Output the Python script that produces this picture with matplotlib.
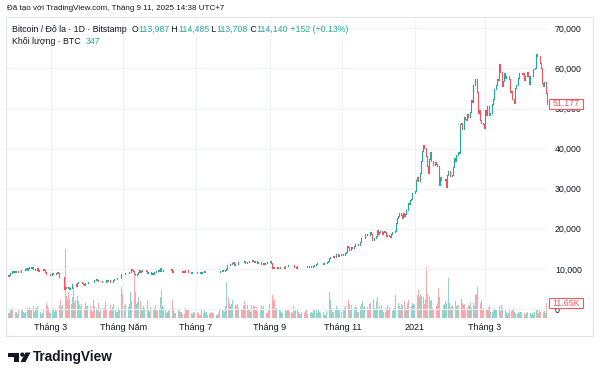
import matplotlib
matplotlib.use("Agg")
import matplotlib.pyplot as plt
import matplotlib.dates as mdates
from matplotlib.patches import Rectangle, Circle, Polygon
import numpy as np
import pandas as pd

plt.rcParams["font.family"] = ["Liberation Sans", "DejaVu Sans"]

# daily closes (USD), Bitstamp BTC/USD, 2020-01-25 .. 2021-04-22
start_date = "2020-01-25"
first_open = 8440
closes = [
    # Jan 2020
    8340, 8600, 8900, 9360, 9300, 9500, 9340,
    # Feb
    9380, 9330, 9290, 9180, 9610, 9730, 9800, 9900, 10160, 9850, 10270, 10360, 10240, 10360, 9900,
    9930, 9700, 10180, 9600, 9610, 9690, 9670, 9970, 9650, 9310, 8790, 8800, 8710, 8530,
    # Mar
    8530, 8910, 8760, 8760, 9070, 9150, 8900, 8040, 7940, 7910, 7910, 4970, 5560, 5200, 5390, 5010,
    5230, 5230, 6190, 6200, 6190, 5830, 6490, 6760, 6690, 6760, 6380, 6250, 5880, 6390, 6430,
    # Apr
    6640, 6790, 6740, 6860, 6790, 7270, 7180, 7360, 7300, 6870, 6890, 6910, 6860, 6840, 6640,
    7120, 7100, 7260, 7120, 6840, 6860, 7130, 7480, 7510, 7540, 7700, 7790, 7760, 8780, 8630,
    # May
    8830, 8970, 8900, 8890, 9020, 9150, 9980, 9810, 9540, 8730, 8600, 8810, 9270, 9730, 9330, 9380,
    9670, 9730, 9780, 9510, 9060, 9170, 9180, 8720, 8900, 8840, 9200, 9580, 9420, 9700, 9460,
    # Jun
    10200, 9520, 9660, 9800, 9630, 9670, 9750, 9780, 9780, 9880, 9320, 9480, 9480, 9390, 9440,
    9520, 9460, 9390, 9310, 9360, 9290, 9690, 9630, 9290, 9250, 9160, 9010, 9120, 9190, 9140,
    # Jul
    9230, 9090, 9060, 9140, 9070, 9340, 9250, 9430, 9240, 9280, 9240, 9300, 9240, 9250, 9200, 9130,
    9150, 9170, 9210, 9160, 9390, 9540, 9610, 9550, 9710, 9940, 11050, 10930, 11100, 11110, 11350,
    # Aug
    11800, 11070, 11230, 11190, 11740, 11770, 11600, 11750, 11680, 11880, 11410, 11590, 11780, 11770,
    11860, 11910, 12290, 11970, 11740, 11870, 11520, 11680, 11650, 11760, 11340, 11460, 11320, 11530,
    11480, 11710, 11680,
    # Sep
    11970, 11420, 10170, 10480, 10170, 10250, 10370, 10130, 10240, 10360, 10400, 10440, 10330, 10680,
    10790, 10950, 10940, 10930, 11080, 10920, 10420, 10530, 10240, 10740, 10690, 10730, 10780, 10700,
    10840, 10780,
    # Oct
    10620, 10570, 10550, 10670, 10790, 10600, 10670, 10920, 11060, 11300, 11380, 11550, 11430, 11430,
    11500, 11320, 11370, 11500, 11750, 11920, 12820, 12970, 12930, 13120, 13030, 13070, 13650, 13270,
    13460, 13560, 13800,
    # Nov
    13760, 13550, 14030, 14130, 15590, 15580, 14830, 15480, 15330, 15300, 15700, 16280, 16320, 16070,
    15960, 16720, 17650, 17800, 17820, 18680, 18700, 18420, 18370, 19160, 18740, 17150, 17140, 17720,
    18180, 19700,
    # Dec
    18780, 19220, 19440, 18650, 19150, 19360, 19170, 18320, 18550, 18250, 18030, 18800, 19170, 19270,
    19440, 21370, 22800, 23140, 23860, 23480, 22740, 23820, 23230, 23730, 24710, 26490, 26280, 27080,
    27360, 28860, 28990,
    # Jan 2021
    29380, 32130, 33000, 31990, 33980, 36820, 39370, 40790, 40250, 38240, 35540, 34010, 37370, 39170,
    36800, 36020, 35800, 36630, 36050, 35550, 30830, 33000, 32100, 32290, 32270, 32520, 30430, 33440,
    34300, 34320, 33110,
    # Feb
    33530, 35510, 37620, 36940, 38290, 39260, 38900, 46200, 46480, 44870, 48000, 47410, 47230, 48720,
    47940, 49200, 52150, 51680, 55890, 55890, 57410, 54090, 48890, 49700, 47090, 46340, 46190, 45140,
    # Mar
    49630, 48380, 50540, 48440, 48880, 48920, 51220, 52390, 54880, 55860, 57330, 57230, 61180, 59000,
    55660, 56900, 58910, 57650, 58030, 58100, 57350, 54080, 54340, 52300, 51320, 55030, 55840, 55780,
    57620, 58780, 58800,
    # Apr
    58730, 58970, 57060, 58200, 59130, 58060, 56000, 58090, 58090, 59770, 59790, 59980, 63500, 63110,
    62980, 61400, 60080, 56250, 55700, 56500, 53800, 51177,
]

# daily volume (thousand BTC)
volumes = [
    3.5, 4.0, 6.5, 8.0, 6.0, 7.5, 5.0,
    4.5, 3.0, 6.0, 5.5, 7.0, 6.5, 4.5, 4.0, 5.0, 7.5, 6.0, 8.5, 7.0, 6.5, 9.0, 5.0, 8.0, 7.5, 9.5,
    6.0, 4.5, 3.0, 3.5, 7.0, 8.0, 12.0, 9.5, 7.5, 4.5,
    4.0, 7.5, 6.0, 4.5, 6.5, 5.5, 3.5, 9.0, 14.0, 8.5, 10.0, 58.0, 54.0, 17.0, 14.0, 20.0, 15.0,
    11.0, 16.0, 24.0, 12.0, 14.0, 17.0, 13.0, 10.0, 8.5, 11.0, 7.5, 8.0, 12.0, 9.0,
    9.0, 10.5, 9.0, 6.0, 5.0, 14.0, 9.5, 8.0, 7.0, 12.0, 5.0, 7.5, 9.0, 8.0, 7.5, 12.5, 7.0, 6.0,
    5.5, 10.0, 7.0, 8.5, 11.0, 6.0, 4.5, 5.0, 7.5, 6.5, 24.0, 19.0,
    18.0, 9.0, 10.5, 12.0, 8.5, 11.0, 20.0, 13.0, 9.0, 33.0, 20.0, 11.0, 12.5, 16.0, 13.0, 8.0,
    7.5, 9.5, 8.0, 10.5, 14.0, 7.0, 5.0, 8.5, 9.0, 6.5, 7.5, 10.0, 6.0, 5.5, 7.0,
    16.0, 22.0, 9.0, 8.5, 6.5, 4.0, 5.0, 5.5, 6.0, 7.0, 14.0, 8.0, 4.0, 3.5, 9.5, 6.0, 5.5, 5.0,
    5.0, 3.0, 3.0, 8.0, 6.5, 7.0, 6.0, 5.5, 4.0, 3.0, 4.5, 4.0,
    5.0, 4.5, 3.5, 2.5, 2.5, 6.0, 4.0, 6.5, 5.0, 4.5, 2.5, 3.0, 4.0, 4.5, 3.5, 4.0, 3.0, 2.0,
    2.5, 3.5, 6.0, 7.0, 6.5, 5.5, 5.0, 9.0, 28.0, 16.0, 12.0, 9.0, 11.0,
    14.0, 19.0, 10.0, 9.0, 11.0, 8.0, 10.0, 6.0, 6.5, 9.0, 13.0, 9.0, 10.0, 7.0, 6.0, 5.0, 10.0,
    9.5, 9.0, 7.0, 8.5, 5.5, 4.5, 6.0, 10.0, 7.5, 9.0, 6.5, 4.0, 4.0, 7.0,
    11.0, 12.0, 18.0, 13.0, 15.0, 8.0, 7.5, 8.5, 6.0, 5.5, 5.0, 3.5, 4.0, 6.0, 5.5, 6.0, 7.0, 5.0,
    4.5, 3.5, 9.0, 5.5, 6.0, 6.5, 4.5, 3.0, 3.0, 4.5, 4.0, 3.5,
    5.5, 6.0, 3.0, 2.5, 4.0, 5.0, 3.5, 6.5, 7.0, 6.0, 3.5, 6.0, 5.0, 4.0, 4.5, 5.0, 2.5, 2.0, 5.5,
    7.0, 20.0, 14.0, 8.0, 5.0, 4.5, 6.5, 9.0, 8.0, 6.5, 6.0, 5.0,
    4.5, 7.0, 7.5, 9.0, 19.0, 14.0, 11.0, 6.0, 10.0, 7.5, 8.0, 9.0, 8.0, 5.0, 4.5, 8.5, 11.0,
    13.0, 8.0, 9.0, 7.0, 8.5, 7.0, 11.0, 12.0, 22.0, 15.0, 8.0, 6.5, 13.0,
    16.0, 9.0, 7.0, 10.0, 6.0, 4.5, 5.0, 8.0, 10.0, 7.0, 8.5, 5.0, 5.5, 6.0, 7.5, 18.0, 23.0,
    12.0, 9.0, 8.0, 11.0, 10.0, 13.0, 8.0, 7.5, 12.0, 14.0, 10.0, 9.5, 12.0, 11.0,
    10.0, 24.0, 18.0, 22.0, 16.0, 19.0, 17.0, 16.0, 11.0, 14.0, 40.0, 19.0, 16.0, 13.0, 14.0, 8.0,
    7.0, 8.5, 9.5, 12.0, 23.0, 16.0, 7.0, 6.5, 10.0, 11.0, 13.0, 12.0, 31.0, 12.0, 8.0,
    9.0, 9.5, 10.0, 13.0, 9.0, 10.0, 9.0, 26.0, 15.0, 12.0, 10.0, 11.0, 7.0, 8.0, 10.0, 9.0, 12.0,
    8.0, 11.5, 9.0, 18.0, 19.0, 24.0, 15.0, 12.0, 14.0, 7.0, 7.5,
    9.5, 6.0, 7.0, 8.0, 9.5, 4.5, 4.5, 6.0, 8.0, 7.0, 6.5, 7.5, 9.0, 5.5, 10.0, 8.0, 7.0, 6.0,
    4.5, 3.0, 4.0, 6.5, 5.5, 7.0, 8.0, 5.0, 3.5, 3.0, 4.5, 4.0, 5.0,
    4.5, 4.0, 3.5, 2.5, 4.0, 5.0, 6.0, 3.5, 3.0, 3.5, 2.5, 4.5, 6.0, 7.0, 4.0, 6.5, 4.5, 9.5,
    5.0, 5.5, 4.0, 11.65,
]

tick_dates = ["2020-03-01", "2020-05-01", "2020-07-01", "2020-09-01", "2020-11-01", "2021-01-01", "2021-03-01"]
tick_labels = ["Tháng 3", "Tháng Năm", "Tháng 7", "Tháng 9", "Tháng 11", "2021", "Tháng 3"]
price_ticks = [0, 10000, 20000, 30000, 40000, 50000, 60000, 70000]

UP = "#22ab94"
DOWN = "#f7525f"
TXT = "#131722"

closes = np.array(closes, dtype=float)
opens = np.concatenate([[first_open], closes[:-1]])
vol = np.array(volumes) * 1000
x = mdates.date2num(pd.date_range(start_date, periods=len(closes), freq="D"))
up = closes >= opens
cols = np.where(up, UP, DOWN)

W, H = 600, 378
fig = plt.figure(figsize=(6, 3.78), dpi=100)
fig.patch.set_facecolor("white")

# pane in pixel coords: x 6..548, y 17..320
ax = fig.add_axes([6 / W, 1 - 320 / H, 542 / W, 303 / H])
ax2 = ax.twinx()
ax.set_zorder(ax2.get_zorder() + 1)
ax.patch.set_visible(False)

mar1 = mdates.date2num(pd.Timestamp("2020-03-01"))
ax.set_xlim(mar1 - 37.75, mar1 + 418)
ax.set_ylim(-2740, 72820)
ax2.set_ylim(-1554, 233900)

# volume
ax2.bar(x, vol, width=0.75, color=[c + "80" for c in cols], linewidth=0)
ax2.set_yticks([])

# candles
lc = ax.vlines(x, np.minimum(opens, closes), np.maximum(opens, closes), colors=cols, linewidth=0.8)
lc.set_capstyle("projecting")

# grid
for p in price_ticks:
    ax.axhline(p, color="#f0f3fa", lw=0.8, zorder=0)
tpos = [mdates.date2num(pd.Timestamp(d)) for d in tick_dates]
for t in tpos:
    ax.axvline(t, color="#f0f3fa", lw=0.8, zorder=0)

ax.set_xticks(tpos)
ax.set_xticklabels(tick_labels, fontsize=6.5, color=TXT)
ax.set_yticks(price_ticks)
ax.set_yticklabels([f"{p:,}" for p in price_ticks], fontsize=6.3, color=TXT)
ax.yaxis.tick_right()
ax.tick_params(axis="both", length=0)
ax.tick_params(axis="x", pad=2)
ax.tick_params(axis="y", pad=5)
for a in (ax, ax2):
    for s in a.spines.values():
        s.set_visible(False)

# overlay in pixel coords, drawn on top of the pane
ov = fig.add_axes([0, 0, 1, 1])
ov.set_zorder(10)
ov.set_xlim(0, W)
ov.set_ylim(H, 0)
ov.axis("off")
ov.add_patch(Rectangle((6, 17), 587, 319, fill=False, edgecolor="#e0e3eb", lw=0.8))

ov.text(7, 9, "Đã tạo với TradingView.com, Tháng 9 11, 2025 14:38 UTC+7", fontsize=5.8, color=TXT, va="center")

fig.canvas.draw()
r = fig.canvas.get_renderer()


def chain(xp, yp, parts):
    for s, c in parts:
        t = ov.text(xp, yp, s, fontsize=6.3, color=c, va="center")
        bb = t.get_window_extent(renderer=r)
        xp += bb.width
    return xp


chain(12, 29, [("Bitcoin / Đô la · 1D · Bitstamp  ", TXT), ("O", TXT), ("113,987", UP), (" H", TXT),
               ("114,485", UP), (" L", TXT), ("113,708", UP), (" C", TXT), ("114,140", UP),
               (" +152 (+0.13%)", UP)])
chain(12, 41, [("Khối lượng · BTC  ", TXT), ("347", UP)])

# last value labels (cover the axis labels beneath, as on the original)
for yv, s in [(103.5, "51,177"), (303, "11.65K")]:
    ov.add_patch(Rectangle((549, yv - 5), 34, 10, facecolor="white", edgecolor=DOWN, lw=0.8, zorder=5))
    ov.text(566, yv, s, fontsize=6.3, color=DOWN, ha="center", va="center", zorder=6)

# logo
ov.add_patch(Rectangle((8, 352.5), 11, 4, color="#131722", lw=0))
ov.add_patch(Rectangle((13.5, 352.5), 5.5, 9.5, color="#131722", lw=0))
ov.add_patch(Circle((22.3, 354.6), 2.1, color="#131722", lw=0))
ov.add_patch(Polygon([(25.5, 352.5), (30.5, 352.5), (25.5, 362), (20.5, 362)], color="#131722", lw=0))
ov.text(33, 357.5, "TradingView", fontsize=9.8, fontweight="bold", color="#131722", va="center")

fig.savefig("out.png", dpi=100)
